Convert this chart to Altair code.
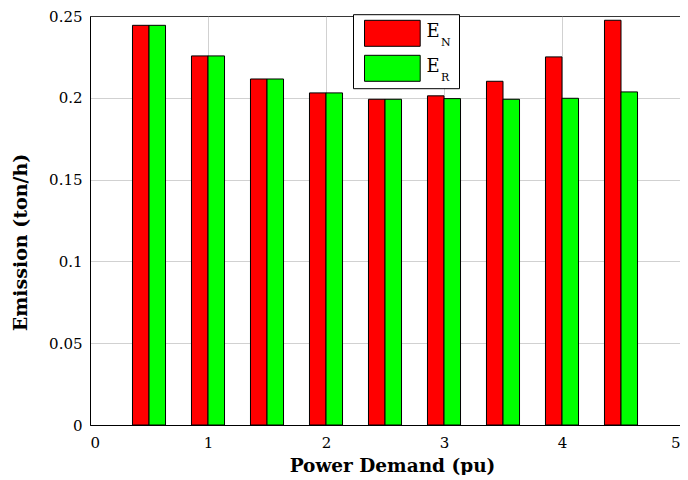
import altair as alt
import pandas as pd

# ---- data ----
demand = [0.5, 1.0, 1.5, 2.0, 2.5, 3.0, 3.5, 4.0, 4.5]
e_n = [0.2443, 0.2256, 0.2115, 0.2030, 0.1991, 0.2012, 0.2101, 0.2250, 0.2474]
e_r = [0.2443, 0.2256, 0.2115, 0.2030, 0.1991, 0.1995, 0.1991, 0.1997, 0.2036]
series = ["EN", "ER"]
legend_main = ["E", "E"]
legend_sub = ["N", "R"]
colors = ["#ff0000", "#00ff00"]
x_ticks = [0, 1, 2, 3, 4, 5]
y_ticks = [0, 0.05, 0.1, 0.15, 0.2, 0.25]
bar_w = 0.14

rows = []
for d, a, b in zip(demand, e_n, e_r):
    rows.append({"demand": d, "series": series[0], "value": a})
    rows.append({"demand": d, "series": series[1], "value": b})
df = pd.DataFrame(rows)

FONT = "DejaVu Serif"

bars = alt.Chart(df).transform_calculate(
    x0=f"datum.series=='EN' ? datum.demand-{bar_w} : datum.demand",
    x1=f"datum.series=='EN' ? datum.demand : datum.demand+{bar_w}",
).mark_bar(stroke="black", strokeWidth=1).encode(
    x=alt.X("x0:Q",
            scale=alt.Scale(domain=[0, 5], nice=False, zero=False, padding=0),
            axis=alt.Axis(values=x_ticks, format="d", title="Power Demand (pu)",
                          labelPadding=10, titleY=46, titleX=302,
                          titleBaseline="alphabetic", titleFontSize=18.5)),
    x2="x1:Q",
    y=alt.Y("value:Q",
            scale=alt.Scale(domain=[0, 0.25], nice=False, padding=0),
            axis=alt.Axis(values=y_ticks, format="~g", title="Emission (ton/h)",
                          labelPadding=8, titleX=-70, titleY=226, titleAngle=270,
                          titleAlign="center", titleBaseline="middle",
                          titleFontSize=19)),
    y2=alt.datum(0),
    color=alt.Color("series:N", scale=alt.Scale(domain=series, range=colors), legend=None),
)

one = pd.DataFrame({"k": [0]})
box = alt.Chart(one).mark_rect(fill="white", stroke="black", strokeWidth=1).encode(
    x=alt.value(263.5), x2=alt.value(369.5), y=alt.value(-1.3), y2=alt.value(72.7))
sw_n = alt.Chart(one).mark_rect(fill=colors[0], stroke="black", strokeWidth=1).encode(
    x=alt.value(274.5), x2=alt.value(330.2), y=alt.value(4.3), y2=alt.value(30.3))
sw_r = alt.Chart(one).mark_rect(fill=colors[1], stroke="black", strokeWidth=1).encode(
    x=alt.value(274.5), x2=alt.value(330.2), y=alt.value(39.3), y2=alt.value(65.3))

def txt(s, x, y, size):
    return alt.Chart(one).mark_text(font=FONT, fontSize=size, align="left",
                                    baseline="alphabetic", color="black").encode(
        x=alt.value(x), y=alt.value(y), text=alt.value(s))

legend = [
    box, sw_n, sw_r,
    txt(legend_main[0], 336.5, 21, 18), txt(legend_sub[0], 351, 30.3, 11),
    txt(legend_main[1], 336.5, 56, 18), txt(legend_sub[1], 351, 65.3, 11),
]

chart = alt.layer(bars, *legend).properties(
    width=590, height=409,
    autosize=alt.AutoSizeParams(type="none"),
    padding={"left": 82, "top": 8, "right": 0, "bottom": 50},
).configure_view(stroke="black", strokeWidth=1).configure_axis(
    labelFont=FONT, labelFontSize=15, labelColor="black",
    titleFont=FONT, titleFontWeight="bold", titleColor="black",
    domainColor="black", domainWidth=1, ticks=False, tickSize=0,
    grid=True, gridColor="#8a8a8a", gridWidth=0.8, gridDash=[1, 1],
)

chart.save("out.html", embed_options={"renderer": "svg", "actions": False})
